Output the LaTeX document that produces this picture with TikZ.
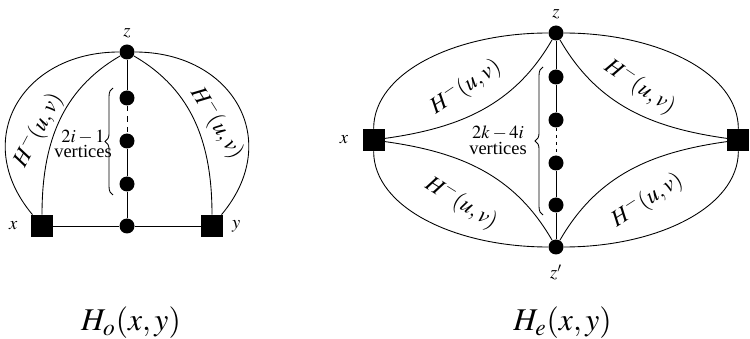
\documentclass[tikz,border=0pt]{standalone}
\usepackage{mathptmx}
\usepackage{fontspec}
\setmainfont{Liberation Serif}
\usepackage{tikz}
\usetikzlibrary{positioning, decorations.pathreplacing}
\tikzset{
    vdot/.style={circle, fill=black, inner sep=0pt, minimum size=0.3cm, on grid},
    endbox/.style={rectangle, fill=black, inner sep=0pt, minimum size=0.44cm, on grid},
    link/.style={draw, line width=0.5pt},
    dashedlink/.style={link, dash pattern=on 2pt off 2pt},
    vlabel/.style={font=\fontsize{10.5}{12}\selectfont},
    sublabel/.style={font=\fontsize{13}{15}\selectfont, inner sep=0pt},
    bracetext/.style={align=center, font=\fontsize{10.5}{9}\selectfont, inner sep=0pt},
    bracket/.style={decorate, decoration={brace, amplitude=4.5pt}, line width=0.5pt},
    capt/.style={font=\fontsize{18}{20}\selectfont, anchor=base, inner sep=0pt}
}

\begin{document}
\begin{tikzpicture}
    \useasboundingbox (0,0) rectangle (15,6.78);

    % Nodes: H_o
    \node [vdot] (zL) at (2.54, 5.74) {};
    \node [vdot, below=0.92cm of zL] (a1) {};
    \node [vdot, below=0.86cm of a1] (a2) {};
    \node [vdot, below=0.86cm of a2] (a3) {};
    \node [vdot, below=0.84cm of a3] (a4) {};
    \node [endbox, left=1.70cm of a4] (xL) {};
    \node [endbox, right=1.70cm of a4] (yL) {};

    \node [vlabel, above=0pt of zL] (zLlab) {$z$};
    \node [vlabel, left=4pt of xL] (xLlab) {$x$};
    \node [vlabel, right=1.5pt of yL] (yLlab) {$y$};

    \coordinate (bL1) at (2.26, 2.88);
    \coordinate (bL2) at (2.26, 5.02);
    \node [bracetext] (bLtext) at (1.66, 3.90) {$2i-1$\\vertices};

    \node [sublabel, rotate=62] (hL1) at (0.76, 4.18) {$H^{-}(u,v)$};
    \node [sublabel, rotate=-58] (hL2) at (4.34, 4.32) {$H^{-}(u,v)$};

    % Nodes: H_e
    \coordinate (cR) at (11.12, 3.98);
    \node [vdot] (zR) at (11.12, 6.12) {};
    \node [vdot, below=0.88cm of zR] (b1) {};
    \node [vdot, below=0.86cm of b1] (b2) {};
    \node [vdot, below=0.86cm of b2] (b3) {};
    \node [vdot, below=0.84cm of b3] (b4) {};
    \node [vdot, below=0.84cm of b4] (zRb) {};
    \node [endbox, left=3.42cm of cR] (xR) {};
    \node [endbox, right=3.42cm of cR] (yR) {};

    \node [vlabel, above=0pt of zR] (zRlab) {$z$};
    \node [vlabel, below=2pt of zRb] (zRblab) {$z'$};
    \node [vlabel, left=4.5pt of xR] (xRlab) {$x$};
    \node [vlabel, right=0pt of yR] (yRlab) {$y$};

    \coordinate (bR1) at (10.86, 2.48);
    \coordinate (bR2) at (10.86, 5.44);
    \node [bracetext] (bRtext) at (9.96, 3.98) {$2k-4i$\\vertices};

    \node [sublabel, rotate=34] (hR1) at (9.31, 5.04) {$H^{-}(u,v)$};
    \node [sublabel, rotate=-34] (hR2) at (12.80, 5.04) {$H^{-}(u,v)$};
    \node [sublabel, rotate=-32] (hR3) at (9.23, 2.72) {$H^{-}(u,v)$};
    \node [sublabel, rotate=33] (hR4) at (12.94, 2.78) {$H^{-}(u,v)$};

    \node [capt] (capL) at (2.62, 0.17) {$H_o(x,y)$};
    \node [capt] (capR) at (11.25, 0.17) {$H_e(x,y)$};

    % Connections: H_o
    \draw [link] (zL) -- (a1);
    \draw [dashedlink, dash pattern=on 3pt off 3pt] (a1) -- (a2);
    \draw [link] (a2) -- (a3);
    \draw [link] (a3) -- (a4);
    \draw [link] (xL) -- (a4);
    \draw [link] (a4) -- (yL);
    \draw [link] (zL) to[out=180, in=130, looseness=1.35] (xL);
    \draw [link] (zL) to[out=210, in=90] (xL);
    \draw [link] (zL) to[out=0, in=50, looseness=1.35] (yL);
    \draw [link] (zL) to[out=330, in=90] (yL);
    \draw [bracket] (bL1) -- (bL2);

    % Connections: H_e
    \draw [link] (zR) -- (b1);
    \draw [link] (b1) -- (b2);
    \draw [dashedlink] (b2) -- (b3);
    \draw [link] (b3) -- (b4);
    \draw [link] (b4) -- (zRb);
    \draw [link] (zR) to[out=180, in=90, out looseness=1.2, in looseness=0.72] (xR);
    \draw [link] (zRb) to[out=180, in=270, out looseness=1.2, in looseness=0.72] (xR);
    \draw [link] (zR) to[out=0, in=90, out looseness=1.2, in looseness=0.72] (yR);
    \draw [link] (zRb) to[out=0, in=270, out looseness=1.2, in looseness=0.72] (yR);
    \draw [link] (xR) to[out=8, in=240] (zR);
    \draw [link] (xR) to[out=-8, in=120] (zRb);
    \draw [link] (yR) to[out=172, in=300] (zR);
    \draw [link] (yR) to[out=188, in=60] (zRb);
    \draw [bracket] (bR1) -- (bR2);
\end{tikzpicture}
\end{document}
